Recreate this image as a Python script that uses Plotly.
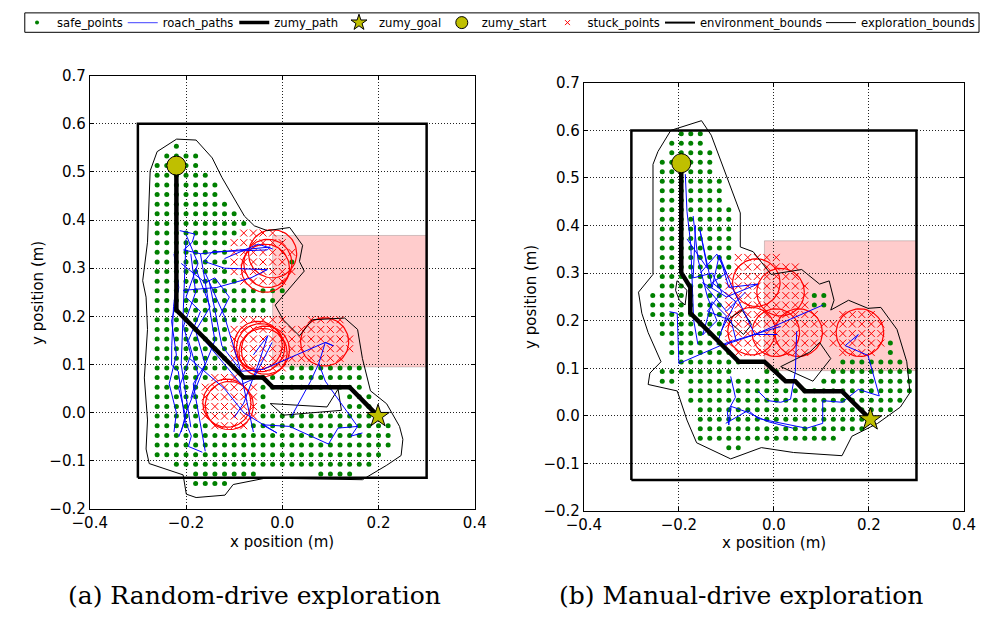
import numpy as np
import plotly.graph_objects as go

# ---------------- data ----------------
ENV_X = [-0.3, 0.3, 0.3, -0.3, -0.3]
ENV_Y = [-0.135, -0.135, 0.6, 0.6, -0.135]
PINK_X = [-0.02, 0.3]
PINK_Y = [0.095, 0.368]
GRID_STEP = 0.02
STUCK_RADIUS = 0.05

LEGEND_NAMES = ["safe_points", "roach_paths", "zumy_path", "zumy_goal", "zumy_start",
                "stuck_points", "environment_bounds", "exploration_bounds"]

# ---- (a) random-drive ----
A_START = (-0.22, 0.513)
A_GOAL = (0.199, -0.007)
A_ZUMY_X = [-0.22, -0.22, -0.08, -0.04, -0.02, 0.14, 0.199]
A_ZUMY_Y = [0.513, 0.213, 0.073, 0.073, 0.053, 0.053, -0.007]

A_SAFE_ROWS = [
    (0.553, [(-0.22, -0.22)]), (0.533, [(-0.24, -0.18)]), (0.513, [(-0.26, -0.18)]),
    (0.493, [(-0.26, -0.16)]), (0.473, [(-0.26, -0.14)]), (0.453, [(-0.26, -0.14)]),
    (0.433, [(-0.26, -0.12)]), (0.413, [(-0.26, -0.10)]), (0.393, [(-0.26, -0.08)]),
    (0.373, [(-0.26, -0.10)]), (0.353, [(-0.26, -0.12)]), (0.333, [(-0.26, -0.12)]),
    (0.313, [(-0.26, -0.12), (0.02, 0.02)]), (0.293, [(-0.26, -0.12)]),
    (0.273, [(-0.26, -0.10)]), (0.253, [(-0.26, 0.0)]), (0.233, [(-0.26, -0.02)]),
    (0.213, [(-0.26, -0.04)]), (0.193, [(-0.26, -0.10)]), (0.173, [(-0.26, -0.12)]),
    (0.153, [(-0.26, -0.12)]), (0.133, [(-0.26, -0.12)]), (0.113, [(-0.26, -0.12)]),
    (0.093, [(-0.26, -0.10), (0.02, 0.16)]), (0.073, [(-0.26, -0.16), (-0.08, 0.16)]),
    (0.053, [(-0.26, -0.18), (-0.04, 0.16)]),
    (0.033, [(-0.26, -0.18), (-0.04, -0.04), (0.14, 0.18)]),
    (0.013, [(-0.26, -0.18), (-0.04, -0.04), (0.14, 0.18)]),
    (-0.007, [(-0.26, -0.18), (-0.04, 0.18)]),
    (-0.027, [(-0.26, -0.16), (-0.06, 0.22)]),
    (-0.047, [(-0.26, 0.22)]), (-0.067, [(-0.26, 0.22)]), (-0.087, [(-0.26, 0.20)]),
    (-0.107, [(-0.22, 0.18)]), (-0.127, [(-0.18, -0.06), (0.08, 0.14)]),
    (-0.147, [(-0.18, -0.12)]),
]
A_STUCK_ROWS = [
    (0.373, [(-0.08, -0.02)]), (0.353, [(-0.10, 0.0)]), (0.333, [(-0.10, 0.02)]),
    (0.313, [(-0.10, 0.0)]), (0.293, [(-0.10, 0.02)]), (0.273, [(-0.08, 0.0)]),
    (0.193, [(-0.08, 0.0), (0.06, 0.12)]), (0.173, [(-0.10, 0.12)]),
    (0.153, [(-0.10, 0.14)]), (0.133, [(-0.10, 0.14)]), (0.113, [(-0.10, 0.12)]),
    (0.093, [(-0.08, 0.0)]), (0.073, [(-0.14, -0.10)]), (0.053, [(-0.16, -0.06)]),
    (0.033, [(-0.16, -0.06)]), (0.013, [(-0.16, -0.06)]), (-0.007, [(-0.16, -0.06)]),
    (-0.027, [(-0.14, -0.08)]),
]
A_STUCK_CENTERS = [(-0.03, 0.31), (-0.035, 0.30), (-0.02, 0.33),
                   (-0.045, 0.135), (-0.04, 0.125), (-0.05, 0.14), (-0.035, 0.13),
                   (0.088, 0.147), (-0.115, 0.02), (-0.11, 0.015)]
A_ROACH = [
    [(-0.213, 0.378), (-0.182, 0.371), (-0.187, 0.354), (-0.205, 0.338), (-0.17, 0.33),
     (-0.025, 0.344), (-0.031, 0.338), (-0.146, 0.334), (-0.162, 0.314), (-0.12, 0.30),
     (-0.031, 0.297), (-0.065, 0.28), (-0.136, 0.26), (-0.206, 0.254)],
    [(-0.2195, 0.274), (-0.226, 0.22), (-0.2296, 0.139), (-0.23, 0.099), (-0.216, 0.086),
     (-0.2026, -0.015), (-0.189, -0.0485), (-0.195, -0.07), (-0.166, -0.082)],
    [(-0.2127, 0.2066), (-0.17, 0.16), (-0.085, 0.0588), (-0.06, 0.07), (-0.0213, 0.146)],
    [(-0.152, 0.274), (-0.1255, 0.139), (-0.085, 0.086), (-0.04, 0.09), (0.0894, 0.146),
     (0.106, 0.139), (0.0894, 0.146), (0.076, 0.1025), (0.059, 0.0656), (0.019, -0.008)],
    [(-0.1925, 0.1126), (-0.12, 0.05), (-0.08, 0.0), (-0.011, -0.042), (-0.0415, -0.025)],
    [(-0.0415, -0.025), (0.0155, -0.0284), (0.096, -0.065), (0.116, -0.0318),
     (0.1565, -0.0284), (0.143, -0.0485), (0.1666, -0.0419)],
    [(0.076, 0.1025), (0.0894, 0.0656), (0.1565, -0.0284)],
    [(-0.20, 0.36), (-0.21, 0.10), (-0.19, -0.03)],
    [(-0.17, 0.33), (-0.14, 0.15), (-0.20, 0.0), (-0.21, -0.04)],
    [(-0.16, 0.29), (-0.12, 0.20), (-0.09, 0.10), (-0.06, -0.04)],
    [(-0.12, 0.32), (-0.05, 0.35), (-0.02, 0.34)],
    [(-0.06, 0.12), (-0.03, 0.16), (-0.05, 0.10), (-0.08, 0.02), (-0.10, -0.01)],
    [(-0.19, 0.33), (-0.18, 0.25), (-0.205, 0.18), (-0.19, 0.12), (-0.215, 0.05),
     (-0.20, -0.01), (-0.215, -0.05)],
    [(-0.18, 0.30), (-0.15, 0.22), (-0.18, 0.17), (-0.16, 0.10), (-0.185, 0.06),
     (-0.17, -0.02), (-0.16, -0.08)],
    [(-0.21, 0.31), (-0.16, 0.27), (-0.14, 0.28), (-0.11, 0.24), (-0.13, 0.20)],
    [(-0.225, 0.33), (-0.215, 0.26), (-0.23, 0.19), (-0.22, 0.12), (-0.235, 0.06),
     (-0.22, 0.0), (-0.225, -0.04)],
    [(-0.2, 0.37), (-0.175, 0.31), (-0.2, 0.24), (-0.17, 0.21), (-0.195, 0.15),
     (-0.175, 0.08), (-0.19, 0.03)],
]
A_BOUNDS = [
    [(-0.290, 0.274), (-0.280, 0.354), (-0.2745, 0.502), (-0.260, 0.542), (-0.2195, 0.568),
     (-0.179, 0.566), (-0.1456, 0.529), (-0.1255, 0.4886), (-0.0785, 0.408), (-0.058, 0.388),
     (-0.031, 0.378), (0.0155, 0.3845), (0.0423, 0.3476), (0.0357, 0.314), (0.0457, 0.294),
     (-0.0147, 0.2234), (0.002, 0.193), (0.0357, 0.1595), (0.0624, 0.193), (0.1297, 0.1966),
     (0.1565, 0.173), (0.1666, 0.1126), (0.1833, 0.0455), (0.217, 0.0185), (0.2437, -0.0284),
     (0.2506, -0.0552), (0.247, -0.0888), (0.217, -0.109), (0.1666, -0.139), (-0.0348, -0.1357),
     (-0.102, -0.149), (-0.119, -0.171), (-0.179, -0.176), (-0.1994, -0.169), (-0.206, -0.129),
     (-0.2765, -0.1055), (-0.283, -0.0753), (-0.28, -0.015), (-0.2866, 0.0723), (-0.28, 0.173),
     (-0.283, 0.24), (-0.290, 0.274)],
    [(-0.025, 0.019), (0.093, 0.012), (0.116, 0.049), (0.123, 0.005), (0.002, -0.005),
     (-0.025, 0.019)],
]

# ---- (b) manual-drive ----
B_START = (-0.195, 0.531)
B_GOAL = (0.203, -0.0075)
B_ZUMY_X = [-0.195, -0.195, -0.176, -0.176, -0.074, -0.02, 0.0245, 0.045, 0.065, 0.143, 0.203]
B_ZUMY_Y = [0.531, 0.301, 0.27, 0.216, 0.114, 0.114, 0.073, 0.073, 0.052, 0.052, -0.0075]

B_SAFE_ROWS = [
    (0.593, [(-0.195, -0.155)]), (0.573, [(-0.215, -0.155)]), (0.553, [(-0.215, -0.135)]),
    (0.533, [(-0.235, -0.135)]), (0.513, [(-0.235, -0.135)]), (0.493, [(-0.235, -0.115)]),
    (0.473, [(-0.235, -0.115)]), (0.453, [(-0.235, -0.115)]), (0.433, [(-0.235, -0.095)]),
    (0.413, [(-0.235, -0.095)]), (0.393, [(-0.235, -0.095)]), (0.373, [(-0.235, -0.095)]),
    (0.353, [(-0.235, -0.095)]), (0.333, [(-0.235, -0.095)]), (0.313, [(-0.235, -0.095)]),
    (0.293, [(-0.235, -0.115)]), (0.273, [(-0.235, -0.115)]),
    (0.253, [(-0.255, -0.115), (0.085, 0.105)]), (0.233, [(-0.255, -0.115), (0.085, 0.105)]),
    (0.213, [(-0.255, -0.115)]), (0.193, [(-0.235, -0.115)]), (0.173, [(-0.235, -0.115)]),
    (0.153, [(-0.215, -0.115), (0.245, 0.245)]), (0.133, [(-0.215, -0.095), (0.245, 0.245)]),
    (0.113, [(-0.195, -0.075), (0.145, 0.265)]),
    (0.093, [(-0.235, -0.095), (-0.015, 0.005), (0.125, 0.285)]),
    (0.073, [(-0.235, -0.215), (-0.175, 0.005), (0.105, 0.285)]),
    (0.053, [(-0.175, 0.285)]), (0.033, [(-0.175, 0.265)]), (0.013, [(-0.155, 0.245)]),
    (-0.007, [(-0.155, 0.185)]), (-0.027, [(-0.155, 0.185)]), (-0.047, [(-0.155, 0.125)]),
    (-0.067, [(-0.095, -0.075)]),
]
B_STUCK_ROWS = [
    (0.333, [(-0.075, 0.005)]), (0.313, [(-0.075, 0.045)]), (0.293, [(-0.095, 0.045)]),
    (0.273, [(-0.095, 0.065)]), (0.253, [(-0.095, 0.065)]), (0.233, [(-0.095, 0.065)]),
    (0.213, [(-0.095, 0.085), (0.145, 0.205)]), (0.193, [(-0.095, 0.225)]),
    (0.173, [(-0.095, 0.225)]), (0.153, [(-0.095, 0.085), (0.125, 0.225)]),
    (0.133, [(-0.075, 0.065), (0.145, 0.205)]),
]
B_STUCK_CENTERS = [(-0.037, 0.28), (0.014, 0.26), (-0.047, 0.178), (0.004, 0.175),
                   (0.052, 0.175), (0.181, 0.175)]
B_ROACH = [
    [(-0.1865, 0.508), (-0.183, 0.43), (-0.175, 0.36), (-0.169, 0.202), (-0.16, 0.15)],
    [(-0.183, 0.372), (-0.14, 0.31), (-0.156, 0.392), (-0.13, 0.27), (-0.115, 0.338),
     (-0.095, 0.27), (-0.0335, 0.277), (-0.1, 0.25), (-0.15, 0.28), (-0.1, 0.22), (-0.06, 0.26)],
    [(-0.22, 0.219), (-0.2035, 0.2157), (-0.2, 0.11), (-0.098, 0.154), (0.0143, 0.188)],
    [(-0.115, 0.338), (-0.088, 0.27), (-0.04, 0.171), (0.1027, 0.2327)],
    [(-0.1088, 0.1476), (-0.04, 0.171), (0.007, 0.171)],
    [(-0.091, 0.083), (-0.081, 0.039), (-0.098, 0.008), (-0.095, -0.019), (-0.09, 0.02),
     (-0.057, 0.008), (-0.013, -0.012), (0.041, -0.026)],
    [(-0.0335, 0.052), (-0.013, 0.032), (0.0143, 0.0286), (0.035, 0.035), (0.045, 0.093),
     (0.048, 0.178)],
    [(-0.1014, -0.0157), (-0.054, 0.0116), (-0.0335, -0.0055), (0.0686, -0.026),
     (0.1027, -0.0157), (0.1027, 0.032), (0.1435, 0.0286), (0.1776, 0.0557), (0.2217, 0.042),
     (0.198, 0.127), (0.15, 0.1476)],
    [(0.15, 0.1476), (0.1776, 0.171), (0.17, 0.16)],
    [(-0.17, 0.42), (-0.16, 0.33), (-0.14, 0.25), (-0.12, 0.20), (-0.15, 0.17), (-0.13, 0.24),
     (-0.10, 0.21), (-0.12, 0.15)],
    [(-0.165, 0.40), (-0.17, 0.29), (-0.13, 0.30), (-0.11, 0.26), (-0.14, 0.22), (-0.09, 0.20),
     (-0.08, 0.16)],
    [(-0.155, 0.30), (-0.12, 0.34), (-0.10, 0.30), (-0.13, 0.28), (-0.08, 0.24), (-0.11, 0.18)],
]
B_BOUNDS = [
    [(-0.1524, 0.6204), (-0.217, 0.6), (-0.244, 0.5557), (-0.2545, 0.5286), (-0.2545, 0.2973),
     (-0.285, 0.26), (-0.278, 0.2157), (-0.2647, 0.175), (-0.2376, 0.1137), (-0.261, 0.0898),
     (-0.2647, 0.066), (-0.2035, 0.0524), (-0.183, -0.0088), (-0.1627, -0.0565),
     (-0.091, -0.0904), (-0.0265, -0.0667), (0.0414, -0.077), (0.1433, -0.0837),
     (0.164, -0.0429), (0.2184, -0.0157), (0.266, 0.0184), (0.2863, 0.049), (0.2796, 0.1137),
     (0.259, 0.1816), (0.225, 0.228), (0.198, 0.226), (0.157, 0.243), (0.1196, 0.2224),
     (0.1265, 0.243), (0.1163, 0.2837), (0.096, 0.277), (0.0584, 0.3076), (-0.006, 0.2973),
     (-0.0437, 0.345), (-0.0708, 0.355), (-0.0708, 0.4265), (-0.132, 0.59), (-0.1524, 0.6204)],
    [(0.096, 0.1545), (0.1196, 0.1204), (0.0822, 0.0729), (0.0143, 0.1035), (0.0755, 0.134),
     (0.096, 0.1545)],
    [(-0.204, 0.284), (-0.183, 0.264), (-0.187, 0.233), (-0.199, 0.243), (-0.207, 0.264),
     (-0.204, 0.284)],
    [(-0.098, 0.202), (-0.067, 0.222), (-0.047, 0.192), (-0.064, 0.171), (-0.098, 0.202)],
]

# legend text start positions (px)
LEGEND_TEXT_X = [45, 154, 269, 377, 483, 592, 708, 874]

# ---------------- helpers ----------------
def expand_rows(rows):
    xs, ys = [], []
    for y, segs in rows:
        for a, b in segs:
            n = int(round((b - a) / GRID_STEP))
            for i in range(n + 1):
                xs.append(a + GRID_STEP * i)
                ys.append(y)
    return xs, ys


def join_lines(lines):
    xs, ys = [], []
    for line in lines:
        for x, y in line:
            xs.append(x)
            ys.append(y)
        xs.append(None)
        ys.append(None)
    return xs, ys


def circles(centers, r):
    t = np.linspace(0, 2 * np.pi, 73)
    xs, ys = [], []
    for cx, cy in centers:
        xs += list(cx + r * np.cos(t)) + [None]
        ys += list(cy + r * np.sin(t)) + [None]
    return xs, ys


OLIVE = "#bfbf00"
STYLE = {
    "safe_points": dict(mode="markers", marker=dict(color="#008000", size=5)),
    "roach_paths": dict(mode="lines", line=dict(color="#0000ff", width=1)),
    "zumy_path": dict(mode="lines", line=dict(color="black", width=4.5)),
    "zumy_goal": dict(mode="markers", marker=dict(symbol="star", size=17, color=OLIVE,
                                                  line=dict(color="black", width=1))),
    "zumy_start": dict(mode="markers", marker=dict(symbol="circle", size=19, color=OLIVE,
                                                   line=dict(color="black", width=1))),
    "stuck_points": dict(mode="markers", marker=dict(color="red", size=7, symbol="x-thin",
                                                     line=dict(color="red", width=1))),
    "environment_bounds": dict(mode="lines", line=dict(color="black", width=2.5)),
    "exploration_bounds": dict(mode="lines", line=dict(color="black", width=1)),
}
LEGEND_STYLE = {
    "safe_points": dict(mode="markers", marker=dict(color="#008000", size=4)),
    "roach_paths": dict(mode="lines", line=dict(color="#6666ff", width=1.2)),
    "zumy_path": dict(mode="lines", line=dict(color="black", width=3.5)),
    "zumy_goal": dict(mode="markers", marker=dict(symbol="star", size=12, color=OLIVE,
                                                  line=dict(color="black", width=1))),
    "zumy_start": dict(mode="markers", marker=dict(symbol="circle", size=12, color=OLIVE,
                                                   line=dict(color="black", width=1))),
    "stuck_points": dict(mode="markers", marker=dict(color="red", size=5, symbol="x-thin",
                                                     line=dict(color="red", width=1))),
    "environment_bounds": dict(mode="lines", line=dict(color="black", width=2)),
    "exploration_bounds": dict(mode="lines", line=dict(color="black", width=1)),
}

fig = go.Figure()


def add_panel(xa, ya, safe_rows, stuck_rows, centers, roach, bounds, zx, zy, start, goal):
    sx, sy = expand_rows(safe_rows)
    kx, ky = expand_rows(stuck_rows)
    cx, cy = circles(centers, STUCK_RADIUS)
    rx, ry = join_lines(roach)
    bx, by = join_lines(bounds)
    common = dict(xaxis=xa, yaxis=ya, hoverinfo="skip", showlegend=False)
    fig.add_trace(go.Scatter(x=sx, y=sy, name="safe_points", **STYLE["safe_points"], **common))
    fig.add_trace(go.Scatter(x=kx, y=ky, name="stuck_points", **STYLE["stuck_points"], **common))
    fig.add_trace(go.Scatter(x=cx, y=cy, mode="lines", line=dict(color="red", width=1.2),
                             **common))
    fig.add_trace(go.Scatter(x=bx, y=by, name="exploration_bounds",
                             **STYLE["exploration_bounds"], **common))
    fig.add_trace(go.Scatter(x=rx, y=ry, name="roach_paths", **STYLE["roach_paths"], **common))
    fig.add_trace(go.Scatter(x=ENV_X, y=ENV_Y, name="environment_bounds",
                             **STYLE["environment_bounds"], **common))
    fig.add_trace(go.Scatter(x=zx, y=zy, name="zumy_path", **STYLE["zumy_path"], **common))
    fig.add_trace(go.Scatter(x=[goal[0]], y=[goal[1]], name="zumy_goal", **STYLE["zumy_goal"],
                             **common))
    fig.add_trace(go.Scatter(x=[start[0]], y=[start[1]], name="zumy_start",
                             **STYLE["zumy_start"], **common))
    fig.add_shape(type="rect", xref=xa, yref=ya, x0=PINK_X[0], x1=PINK_X[1],
                  y0=PINK_Y[0], y1=PINK_Y[1], fillcolor="#ffcccc",
                  line=dict(color="rgba(0,0,0,0.18)", width=1), layer="below")


add_panel("x", "y", A_SAFE_ROWS, A_STUCK_ROWS, A_STUCK_CENTERS, A_ROACH, A_BOUNDS,
          A_ZUMY_X, A_ZUMY_Y, A_START, A_GOAL)
add_panel("x2", "y2", B_SAFE_ROWS, B_STUCK_ROWS, B_STUCK_CENTERS, B_ROACH, B_BOUNDS,
          B_ZUMY_X, B_ZUMY_Y, B_START, B_GOAL)

W, H = 992, 622

# legend entries: one legend object per entry, placed like the reference legend row
legend_layout = {}
for i, name in enumerate(LEGEND_NAMES):
    key = "legend" if i == 0 else f"legend{i + 1}"
    fig.add_trace(go.Scatter(x=[None], y=[None], name=name, legend=key, showlegend=True,
                             xaxis="x", yaxis="y", hoverinfo="skip", **LEGEND_STYLE[name]))
    legend_layout[key] = dict(orientation="h", x=(LEGEND_TEXT_X[i] - 46) / W, y=1 - 14 / H,
                              xanchor="left", yanchor="middle", borderwidth=0,
                              bgcolor="rgba(0,0,0,0)", itemsizing="trace",
                              font=dict(family="DejaVu Sans", size=11.6, color="black"))

fig.add_shape(type="rect", xref="paper", yref="paper", x0=7 / W, x1=991 / W,
              y0=1 - 24 / H, y1=1 - 4 / H, line=dict(color="black", width=1),
              fillcolor="rgba(0,0,0,0)", layer="below")

axis_common = dict(showline=True, linecolor="black", linewidth=1, mirror="ticks",
                   ticks="inside", ticklen=4, tickcolor="black", showgrid=True,
                   gridcolor="#222222", griddash="1px,2px", gridwidth=1, zeroline=False,
                   tickfont=dict(family="DejaVu Sans", size=15, color="black"),
                   tickformat=".1f")
fig.update_layout(
    width=W, height=H, margin=dict(l=0, r=0, t=0, b=0),
    paper_bgcolor="white", plot_bgcolor="white",
    font=dict(family="DejaVu Sans", color="black"),
    xaxis=dict(domain=[74 / W, 471 / W], range=[-0.4, 0.4], dtick=0.2, anchor="y", **axis_common),
    yaxis=dict(domain=[1 - 515 / H, 1 - 68.5 / H], range=[-0.2, 0.7], dtick=0.1, anchor="x",
               **axis_common),
    xaxis2=dict(domain=[583.5 / W, 975.5 / W], range=[-0.4, 0.4], dtick=0.2, anchor="y2",
                **axis_common),
    yaxis2=dict(domain=[1 - 517 / H, 1 - 76 / H], range=[-0.2, 0.7], dtick=0.1, anchor="x2",
                **axis_common),
    showlegend=True,
    **legend_layout,
)

ann = dict(showarrow=False, xref="paper", yref="paper",
           font=dict(family="DejaVu Sans", size=15, color="black"))
fig.add_annotation(text="x position (m)", x=272.5 / W, y=1 - 549 / H, xanchor="center",
                   yanchor="middle", **ann)
fig.add_annotation(text="x position (m)", x=779.7 / W, y=1 - 550 / H, xanchor="center",
                   yanchor="middle", **ann)
fig.add_annotation(text="y position (m)", x=20 / W, y=1 - 292 / H, xanchor="center",
                   yanchor="middle", textangle=-90, **ann)
fig.add_annotation(text="y position (m)", x=529 / W, y=1 - 296.5 / H, xanchor="center",
                   yanchor="middle", textangle=-90, **ann)
cap = dict(showarrow=False, xref="paper", yref="paper",
           font=dict(family="DejaVu Serif", size=25, color="black"))
fig.add_annotation(text="(a) Random-drive exploration", x=244 / W, y=1 - 604 / H,
                   xanchor="center", yanchor="middle", **cap)
fig.add_annotation(text="(b) Manual-drive exploration", x=746 / W, y=1 - 604 / H,
                   xanchor="center", yanchor="middle", **cap)

fig.write_html("out.html")
